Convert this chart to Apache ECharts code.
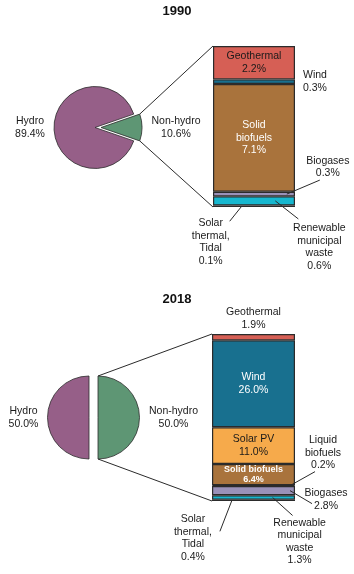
<!DOCTYPE html>
<html>
<head>
<meta charset="utf-8">
<script src="https://cdn.jsdelivr.net/npm/echarts@6/dist/echarts.min.js"></script>
<style>
  html, body { margin: 0; padding: 0; background: #fff; }
  #chart { width: 354px; height: 574px; }
</style>
</head>
<body>
<div id="chart"></div>
<script>
// data
const years = ['1990', '2018'];
const pieNames = ['Hydro', 'Non-hydro'];
const pie1990 = [89.4, 10.6];
const pie2018 = [50.0, 50.0];

// stacked from the bottom up
const parts1990 = ['Solar thermal, Tidal', 'Renewable municipal waste', 'Biogases', 'Solid biofuels', 'Wind', 'Geothermal'];
const values1990 = [0.1, 0.6, 0.3, 7.1, 0.3, 2.2];
const parts2018 = ['Solar thermal, Tidal', 'Renewable municipal waste', 'Biogases', 'Liquid biofuels', 'Solid biofuels', 'Solar PV', 'Wind', 'Geothermal'];
const values2018 = [0.4, 1.3, 2.8, 0.2, 6.4, 11.0, 26.0, 1.9];

const colors = {
  'Hydro': '#965f88',
  'Non-hydro': '#5e9674',
  'Geothermal': '#d65f55',
  'Wind': '#18708f',
  'Solar PV': '#f6aa4b',
  'Solid biofuels': '#a9733c',
  'Liquid biofuels': '#3a3030',
  'Biogases': '#9a91b9',
  'Renewable municipal waste': '#17b7cf',
  'Solar thermal, Tidal': '#2e2e2e'
};

const FONT = '"Liberation Sans", Arial, sans-serif';
const pct = v => v.toFixed(1) + '%';

// labels drawn inside / on top of a segment
const innerLabels = {
  '1990|Geothermal': { text: 'Geothermal\n2.2%', color: '#1a1a1a' },
  '1990|Solid biofuels': { text: 'Solid\nbiofuels\n7.1%', color: '#fff' },
  '2018|Wind': { text: 'Wind\n26.0%', color: '#fff' },
  '2018|Solar PV': { text: 'Solar PV\n11.0%', color: '#1a1a1a' },
  '2018|Solid biofuels': { text: 'Solid biofuels\n6.4%', color: '#fff', bold: true, size: 9, lh: 10.5 },
  '2018|Geothermal': { text: 'Geothermal\n1.9%', color: '#1a1a1a', pos: 'top' }
};

// callouts: fx = where on the segment the leader starts, d = leader vector, t = text offset from the leader end
const callouts = [
  { y: 0, name: 'Wind', text: 'Wind\n0.3%', side: true },
  { y: 0, name: 'Biogases', text: 'Biogases\n0.3%', fx: 0.9, d: [33, -14], t: [8, -13] },
  { y: 0, name: 'Solar thermal, Tidal', text: 'Solar\nthermal,\nTidal\n0.1%', fx: 0.35, d: [-12, 15], t: [-19, 21] },
  { y: 0, name: 'Renewable municipal waste', text: 'Renewable\nmunicipal\nwaste\n0.6%', fx: 0.76, d: [23, 18], t: [21, 28] },
  { y: 1, name: 'Liquid biofuels', text: 'Liquid\nbiofuels\n0.2%', fx: 0.94, d: [25, -14], t: [8, -19] },
  { y: 1, name: 'Biogases', text: 'Biogases\n2.8%', fx: 0.94, d: [22, 13], t: [14, -4] },
  { y: 1, name: 'Solar thermal, Tidal', text: 'Solar\nthermal,\nTidal\n0.4%', fx: 0.24, d: [-12, 31], t: [-27, 7] },
  { y: 1, name: 'Renewable municipal waste', text: 'Renewable\nmunicipal\nwaste\n1.3%', fx: 0.73, d: [20, 18], t: [7, 26] }
];

const pieCfg = [
  { values: pie1990, center: [95, 127.5], r: 41, start: pie1990[1] / 100 * 180, offset: 6, w: [32, 52] },
  { values: pie2018, center: [89, 417.5], r: 41.5, start: 90, offset: 9, w: [32, 52] }
];

function pieSeries(cfg) {
  const order = [1, 0]; // non-hydro first so it starts at startAngle
  return {
    type: 'pie',
    center: cfg.center,
    radius: cfg.r,
    startAngle: cfg.start,
    clockwise: true,
    animation: false,
    avoidLabelOverlap: false,
    labelLayout: { hideOverlap: false },
    selectedMode: 'single',
    selectedOffset: cfg.offset,
    emphasis: { disabled: true },
    itemStyle: { borderColor: '#2b2b2b', borderWidth: 0.8 },
    label: {
      position: 'outside',
      distanceToLabelLine: 5,
      fontFamily: FONT,
      fontSize: 10.5,
      color: '#1a1a1a',
      lineHeight: 12.5
    },
    labelLine: { show: false, length: 3, length2: 0 },
    data: order.map(i => ({
      name: pieNames[i],
      value: cfg.values[i],
      selected: i === 1,
      itemStyle: { color: colors[pieNames[i]] },
      label: {
        formatter: '{t|' + pieNames[i] + '}\n{t|' + pct(cfg.values[i]) + '}',
        rich: { t: { width: cfg.w[i], align: 'center', fontFamily: FONT, fontSize: 10.5, lineHeight: 12.5, color: '#1a1a1a' } }
      }
    }))
  };
}

function barSeries(yearIdx, parts, values) {
  return parts.map((name, i) => {
    const lab = innerLabels[years[yearIdx] + '|' + name];
    return {
      type: 'bar',
      name: name,
      stack: years[yearIdx],
      xAxisIndex: yearIdx,
      yAxisIndex: yearIdx,
      barWidth: '100%',
      animation: false,
      emphasis: { disabled: true },
      itemStyle: { color: colors[name], borderColor: '#2b2b2b', borderWidth: 1.2 },
      label: lab ? {
        show: true,
        position: lab.pos || 'inside',
        distance: 3,
        formatter: lab.text,
        color: lab.color,
        fontFamily: FONT,
        fontSize: lab.size || 10.5,
        fontWeight: lab.bold ? 'bold' : 'normal',
        lineHeight: lab.lh || 12.5
      } : { show: false },
      data: [values[i]]
    };
  });
}

const chart = echarts.init(document.getElementById('chart'), null, { renderer: 'canvas' });

const option = {
  backgroundColor: '#fff',
  title: [
    { text: years[0], left: 'center', top: 5, padding: 0, textStyle: { fontFamily: FONT, fontSize: 13, fontWeight: 'bold', color: '#111' } },
    { text: years[1], left: 'center', top: 293, padding: 0, textStyle: { fontFamily: FONT, fontSize: 13, fontWeight: 'bold', color: '#111' } }
  ],
  grid: [
    { left: 213, top: 46, width: 82, height: 161 },
    { left: 212, top: 334, width: 83, height: 167 }
  ],
  xAxis: [0, 1].map(i => ({ type: 'category', gridIndex: i, data: [years[i]], show: false })),
  yAxis: [
    { type: 'value', gridIndex: 0, min: 0, max: pie1990[1], show: false },
    { type: 'value', gridIndex: 1, min: 0, max: pie2018[1], show: false }
  ],
  series: [
    pieSeries(pieCfg[0]),
    pieSeries(pieCfg[1]),
    ...barSeries(0, parts1990, values1990),
    ...barSeries(1, parts2018, values2018)
  ]
};
chart.setOption(option);

// connectors and callouts, placed from the library's own layouts
function segLayout(yearIdx, name) {
  const model = chart.getModel();
  let found = null;
  model.eachSeries(s => {
    if (s.subType === 'bar' && s.get('stack') === years[yearIdx] && s.name === name) {
      found = s.getData().getItemLayout(0);
    }
  });
  const x = Math.min(found.x, found.x + found.width);
  const y = Math.min(found.y, found.y + found.height);
  return { x: x, y: y, width: Math.abs(found.width), height: Math.abs(found.height) };
}

const graphics = [];
const lineStyle = { stroke: '#2b2b2b', lineWidth: 1 };

// pie -> bar connectors
[0, 1].forEach(k => {
  const cfg = pieCfg[k];
  const parts = k === 0 ? parts1990 : parts2018;
  const top = segLayout(k, parts[parts.length - 1]);
  const bot = segLayout(k, parts[0]);
  const half = cfg.values[1] / 100 * Math.PI; // half angle of the non-hydro slice
  const cx = cfg.center[0] + cfg.offset;
  const cy = cfg.center[1];
  const p1 = k === 0 ? [cx + cfg.r * Math.cos(half), cy - cfg.r * Math.sin(half)] : [cx, cy - cfg.r];
  const p2 = k === 0 ? [cx + cfg.r * Math.cos(half), cy + cfg.r * Math.sin(half)] : [cx, cy + cfg.r];
  graphics.push({ type: 'line', shape: { x1: p1[0], y1: p1[1], x2: top.x, y2: top.y }, style: lineStyle, silent: true });
  graphics.push({ type: 'line', shape: { x1: p2[0], y1: p2[1], x2: bot.x, y2: bot.y + bot.height }, style: lineStyle, silent: true });
});

callouts.forEach(c => {
  const s = segLayout(c.y, c.name);
  const midY = s.y + s.height / 2;
  if (c.side) {
    graphics.push({
      type: 'text', silent: true,
      style: { text: c.text, x: s.x + s.width + 8, y: midY, align: 'left', verticalAlign: 'middle', font: '10.5px ' + FONT, lineHeight: 12.5, fill: '#1a1a1a' }
    });
    return;
  }
  const sx = s.x + s.width * c.fx;
  const ex = sx + c.d[0];
  const ey = midY + c.d[1];
  graphics.push({ type: 'line', silent: true, shape: { x1: sx, y1: midY, x2: ex, y2: ey }, style: lineStyle, z: 10 });
  graphics.push({
    type: 'text', silent: true,
    style: { text: c.text, x: ex + c.t[0], y: ey + c.t[1], align: 'center', verticalAlign: 'middle', font: '10.5px ' + FONT, lineHeight: 12.5, fill: '#1a1a1a' }
  });
});

chart.setOption({ graphic: graphics });
</script>
</body>
</html>
